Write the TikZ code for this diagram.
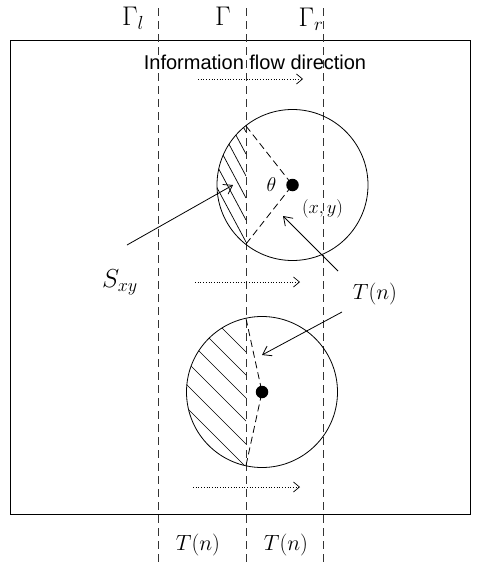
\RequirePackage{fix-cm}
\documentclass[tikz,border=0pt]{standalone}
\usepackage{fontspec}
\newfontfamily\flowfont{Liberation Sans}
\usetikzlibrary{positioning, arrows.meta, calc}

\begin{document}
\begin{tikzpicture}[x=1pt, y=-1pt,
  frame/.style={draw, line width=0.8pt},
  bound/.style={draw, black!80, dash pattern=on 8pt off 5pt, line width=0.8pt},
  chord/.style={draw, dash pattern=on 7pt off 4pt, line width=0.8pt},
  flow/.style={dotted, line width=0.7pt, -{Straight Barb[length=6pt, width=10pt]}},
  ptr/.style={line width=0.8pt, -{Straight Barb[length=8pt, width=11pt]}},
  hatch/.style={line width=0.7pt},
  centre/.style={circle, fill=black, inner sep=0pt, minimum size=12.5pt},
  lbl/.style={inner sep=0pt, font=\fontsize{22}{26}\selectfont},
  glbl/.style={inner sep=0pt, font=\fontsize{27}{31}\selectfont},
]
  \useasboundingbox (0,0) rectangle (480,562);

  % outer region
  \draw[frame] (10,40) rectangle (470,514);

  % boundaries Gamma_l, Gamma, Gamma_r
  \foreach \x in {158, 246, 323} {
    \draw[bound] (\x,8) -- (\x,562);
  }
  \node[glbl] (gl) at (133,18) {$\Gamma_l$};
  \node[glbl] (gm) at (223,16) {$\Gamma$};
  \node[glbl] (gr) at (311,19) {$\Gamma_r$};

  % information flow
  \node[font=\flowfont\fontsize{20}{24}\selectfont, inner sep=0pt] (flowlbl) at (255,62) {Information flow direction};
  \foreach \y/\a/\b in {79/198/303, 282/195/300, 487/193/300} {
    \draw[flow] (\a,\y) -- (\b,\y);
  }

  % upper disc: hatched segment left of Gamma
  \begin{scope}
    \clip (292.5,185) circle[radius=75.5pt];
    \clip (150,100) rectangle (246,270);
    \foreach \y in {132,154,...,242} {
      \draw[hatch] (246,\y) -- ++(-47,-88);
    }
  \end{scope}
  \draw[frame] (292.5,185) circle[radius=75.5pt];
  \node[centre] (dotA) at (292.5,185) {};
  \coordinate (a1) at (246,126);
  \coordinate (a2) at (246,244);
  \draw[chord] (a1) -- (dotA.center) -- (a2);
  \node[lbl, font=\fontsize{20}{24}\selectfont] (theta) at (271.5,185) {$\theta$};
  \node[lbl, font=\fontsize{18.5}{22}\selectfont] (xylbl) at (322.5,209) {$(x,y)$};

  % lower disc: hatched segment left of Gamma
  \begin{scope}
    \clip (262,392) circle[radius=75.5pt];
    \clip (150,300) rectangle (246,480);
    \foreach \y in {352,375,...,467} {
      \draw[hatch] (246,\y) -- ++(-120,-120);
    }
  \end{scope}
  \draw[frame] (262,392) circle[radius=75.5pt];
  \node[centre] (dotB) at (262,392) {};
  \coordinate (b1) at (246,318.5);
  \coordinate (b2) at (246,465.5);
  \draw[chord] (b1) -- (dotB.center) -- (b2);

  % labels and pointers
  \node[lbl, font=\fontsize{26}{30}\selectfont] (sxy) at (120,282) {$S_{xy}$};
  \coordinate (sxyfrom) at (127,245);
  \coordinate (sxyto) at (233,185);
  \draw[ptr] (sxyfrom) -- (sxyto);

  \node[lbl] (tnmid) at (375,294) {$T(n)$};
  \coordinate (tnfromA) at (338,271);
  \coordinate (tntoA) at (283,216);
  \coordinate (tnfromB) at (342,312);
  \coordinate (tntoB) at (262,355);
  \draw[ptr] (tnfromA) -- (tntoA);
  \draw[ptr] (tnfromB) -- (tntoB);

  \node[lbl] (tnleft) at (198,545) {$T(n)$};
  \node[lbl] (tnright) at (286,545) {$T(n)$};
\end{tikzpicture}
\end{document}
